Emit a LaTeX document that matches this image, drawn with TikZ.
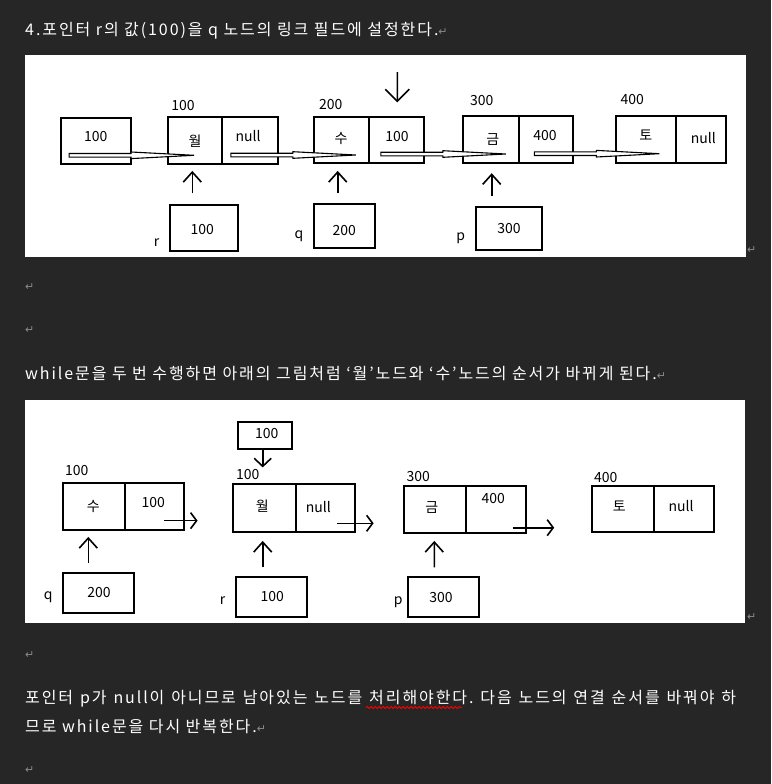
\documentclass[tikz,border=0pt]{standalone}
\usepackage{fontspec}
\setmainfont{Noto Sans CJK KR}
\newfontfamily\bodyfont[LetterSpace=12]{Noto Sans CJK KR}
\newfontfamily\dvs{DejaVu Sans}
\usetikzlibrary{arrows.meta,decorations.pathmorphing}
\definecolor{bg}{HTML}{262626}
\definecolor{retc}{HTML}{8A8A8A}
\newcommand\retmark{{\dvs\fontsize{11}{12}\selectfont\color{retc}↵}}
\newcommand\mkcell[5]{\node[cell, minimum width={(#4-#2)*1pt}, minimum height={(#5-#3)*1pt}] (#1) at ({(#2+#4)/2},{(#3+#5)/2}) {};}
\newcommand\hollowarr[2]{\draw[hollow] ([shift={#2}]#1) ++(0,-1.8) -- ++(62,0) -- ++(0,-1.5) -- ++(63,3.3) -- ++(-63,3.3) -- ++(0,-1.5) -- ++(-62,0) -- cycle;}
\frenchspacing
\begin{document}
\begin{tikzpicture}[x=1pt,y=-1pt,
  cell/.style={draw=black, line width=1.8pt, inner sep=0pt},
  lbl/.style={font=\fontsize{14}{16}\selectfont, inner sep=0pt, text=black},
  body/.style={font=\bodyfont\fontsize{16}{20}\selectfont, text=white, inner sep=0pt, anchor=base west},
  retn/.style={inner sep=0pt, anchor=west},
  arr/.style={line width=1.6pt, -{Straight Barb[length=10pt,width=18pt]}},
  arrs/.style={line width=1.6pt, -{Straight Barb[length=6pt,width=16pt]}},
  hollow/.style={draw=black, line width=1.1pt, fill=white, line join=miter}]
\fill[bg] (0,0) rectangle (771,784);
\useasboundingbox (0,0) rectangle (771,784);
\fill[white] (25,55) rectangle (746,257);
\fill[white] (25,400) rectangle (745,623);

% ---------- text ----------
\node[body] (t1) at (25,35.5) {4.포인터 r의 값(100)을 q 노드의 링크 필드에 설정한다.\retmark};
\node[retn] (e1) at (25,287) {\retmark};
\node[retn] (e2) at (25,330) {\retmark};
\node[body] (t2) at (25,379.5) {while문을 두 번 수행하면 아래의 그림처럼 ‘월’노드와 ‘수’노드의 순서가 바뀌게 된다.\retmark};
\node[retn] (e3) at (25,655) {\retmark};
\node[body] (t3) at (25,703.5) {\makebox[711pt][s]{포인터 p가 null이 아니므로 남아있는 노드를 처리해야한다. 다음 노드의 연결 순서를 바꿔야 하}};
\node[body] (t4) at (25,732.3) {므로 while문을 다시 반복한다.\retmark};
\node[retn] (e4) at (25,770) {\retmark};
\node[retn] (e5) at (747,250) {\retmark};
\node[retn] (e6) at (747,617) {\retmark};
\draw[red, line width=0.8pt, decorate, decoration={snake, amplitude=1.1pt, segment length=4pt}] (366,707.5) -- (462,707.5);

% ---------- panel 1 ----------
\mkcell{bA}{61}{117.7}{130.7}{164.3}
\mkcell{wolL}{167.7}{117.3}{222.3}{164.3}
\mkcell{wolR}{222.3}{117.3}{277.7}{164.3}
\mkcell{suL}{314.3}{116.7}{369}{163.3}
\mkcell{suR}{369}{116.7}{424.3}{163.3}
\mkcell{geL}{463.3}{116.3}{518.7}{163.3}
\mkcell{geR}{518.7}{116.3}{573.3}{163.3}
\mkcell{toL}{615.7}{116}{675.7}{162.7}
\mkcell{toR}{675.7}{116}{725.7}{162.7}
\mkcell{rB}{170.3}{205}{237.7}{250.7}
\mkcell{qB}{314.3}{204}{375}{247.7}
\mkcell{pB}{475.7}{206.7}{542.3}{250}

\node[lbl] (xA) at (95.7,136.7) {100};
\node[lbl] (xa1) at (183,106) {100};
\node[lbl] (xwol) at (195,141) {월};
\node[lbl] (xnull1) at (248,136) {null};
\node[lbl] (xa2) at (330.7,104.3) {200};
\node[lbl] (xsu) at (341,138.3) {수};
\node[lbl] (xsuv) at (397,137) {100};
\node[lbl] (xa3) at (481.7,101) {300};
\node[lbl] (xge) at (492.7,140) {금};
\node[lbl] (xgev) at (545,135.7) {400};
\node[lbl] (xa4) at (632.3,99.3) {400};
\node[lbl] (xto) at (645.7,135) {토};
\node[lbl] (xnull2) at (703.3,138.3) {null};
\node[lbl] (xr) at (202.3,230) {100};
\node[lbl] (xrl) at (156.7,242.7) {r};
\node[lbl] (xq) at (344.3,230.7) {200};
\node[lbl] (xql) at (299,236.7) {q};
\node[lbl] (xp) at (509,228.3) {300};
\node[lbl] (xpl) at (460.7,238.3) {p};

\hollowarr{bA.west}{(9,14.3)}
\hollowarr{wolR.west}{(9.4,14.2)}
\hollowarr{suR.west}{(12.7,14)}
\hollowarr{geR.west}{(16.6,13.9)}

\draw[arr] ([shift={(-11.7,-10.7)}]rB.north) -- ([shift={(-2.7,5.7)}]wolL.south);
\draw[arr] ([shift={(-6.95,-9.7)}]qB.north) -- ([shift={(-3.95,6.7)}]suL.south);
\draw[arr] ([shift={(-17.3,-9.4)}]pB.north) -- ([shift={(0.7,9)}]geL.south);
\coordinate (dtop) at (397.3,72);
\draw[line width=1.6pt, -{Straight Barb[length=12pt,width=24pt]}] (dtop) -- ([shift={(0.65,-13.4)}]suR.north);

% ---------- panel 2 ----------
\mkcell{top}{238.3}{421.7}{291.7}{449.3}
\mkcell{suL2}{62.7}{483.3}{125}{530}
\mkcell{suR2}{125}{483.3}{184.3}{530}
\mkcell{wolL2}{233.3}{484.3}{295.7}{531.7}
\mkcell{wolR2}{295.7}{484.3}{355}{531.7}
\mkcell{geL2}{403.7}{486}{466.3}{532.7}
\mkcell{geR2}{466.3}{486}{525.7}{532.7}
\mkcell{toL2}{591.7}{486}{654}{532.3}
\mkcell{toR2}{654}{486}{713.7}{532.3}
\mkcell{qB2}{62.7}{572.7}{134}{612.7}
\mkcell{rB2}{235.7}{576.7}{307.3}{616.7}
\mkcell{pB2}{407.7}{576.7}{479}{616.7}

\node[lbl] (ytop) at (266.7,433.3) {100};
\node[lbl] (ya1) at (76.7,471) {100};
\node[lbl] (ysu) at (93.3,506) {수};
\node[lbl] (ysuv) at (153.3,502.7) {100};
\node[lbl] (ya2) at (247.7,475) {100};
\node[lbl] (ywol) at (262.3,506) {월};
\node[lbl] (ynull1) at (318.3,506.7) {null};
\node[lbl] (ya3) at (418.3,476.7) {300};
\node[lbl] (yge) at (431.7,507.3) {금};
\node[lbl] (ygev) at (493.3,498.3) {400};
\node[lbl] (ya4) at (605.7,477.3) {400};
\node[lbl] (yto) at (619.3,506) {토};
\node[lbl] (ynull2) at (681,506) {null};
\node[lbl] (yq) at (99,592.7) {200};
\node[lbl] (yql) at (48.3,596.7) {q};
\node[lbl] (yr) at (272.3,596.7) {100};
\node[lbl] (yrl) at (222.7,601) {r};
\node[lbl] (yp) at (441,597.3) {300};
\node[lbl] (ypl) at (398.3,601.7) {p};

\draw[arrs] ([shift={(-21,14)}]suR2.east) -- ++(33.4,0);
\draw[arrs] ([shift={(-19,15.3)}]wolR2.east) -- ++(36.7,0);
\draw[arrs] ([shift={(-14,18.35)}]geR2.east) -- ++(41.6,0);
\draw[arr] ([shift={(-10.05,-8.4)}]qB2.north) -- ([shift={(-5.55,6)}]suL2.south);
\draw[arr] ([shift={(-8.8,-8.4)}]rB2.north) -- ([shift={(-1.8,8.3)}]wolL2.south);
\draw[arr] ([shift={(-9.05,-8.4)}]pB2.north) -- ([shift={(-0.7,7.3)}]geL2.south);
\draw[line width=1.6pt, -{Straight Barb[length=8pt,width=17pt]}] ([shift={(-2.3,0)}]top.south) -- ([shift={(-1.8,-16)}]wolL2.north);
\end{tikzpicture}
\end{document}
